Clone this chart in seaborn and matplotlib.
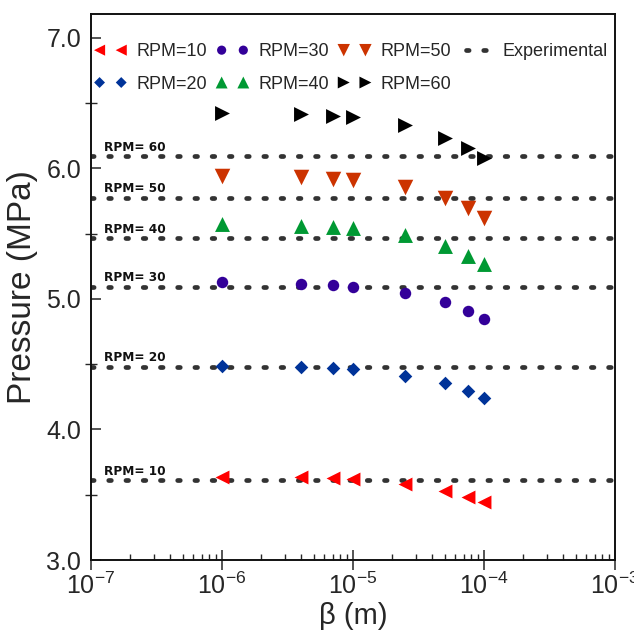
import matplotlib
matplotlib.use("Agg")
import matplotlib.pyplot as plt
import matplotlib.ticker as mticker
import numpy as np
import pandas as pd
import seaborn as sns

# beta values (m) shared by all simulated series
beta = [1e-6, 4e-6, 7e-6, 1e-5, 2.5e-5, 5e-5, 7.5e-5, 1e-4]

rpm10 = [3.638, 3.633, 3.626, 3.618, 3.582, 3.528, 3.485, 3.442]
rpm20 = [4.485, 4.480, 4.470, 4.460, 4.411, 4.353, 4.294, 4.238]
rpm30 = [5.126, 5.116, 5.106, 5.093, 5.042, 4.973, 4.907, 4.843]
rpm40 = [5.573, 5.557, 5.550, 5.540, 5.488, 5.404, 5.330, 5.266]
rpm50 = [5.940, 5.930, 5.920, 5.910, 5.854, 5.770, 5.693, 5.617]
rpm60 = [6.425, 6.415, 6.400, 6.390, 6.331, 6.234, 6.153, 6.076]

rpm_names = ["RPM=10", "RPM=20", "RPM=30", "RPM=40", "RPM=50", "RPM=60"]
experimental = [3.61, 4.479, 5.093, 5.462, 5.775, 6.090]
exp_labels = ["RPM= 10", "RPM= 20", "RPM= 30", "RPM= 40", "RPM= 50", "RPM= 60"]

colors = ["#ff0000", "#003399", "#330099", "#009933", "#cc3300", "#000000"]
markers = ["<", "D", "o", "^", "v", ">"]
sizes = [100, 48, 68, 115, 125, 115]

sns.set_style("ticks")
plt.rcParams["font.family"] = ["Liberation Sans", "DejaVu Sans"]
plt.rcParams["mathtext.fontset"] = "custom"
plt.rcParams["mathtext.rm"] = "Liberation Sans"
plt.rcParams["mathtext.it"] = "Liberation Sans:italic"

fig = plt.figure(figsize=(6.34, 6.39), dpi=100)
ax = fig.add_axes([91 / 634, 79 / 639, 524 / 634, 546 / 639])

series = [rpm10, rpm20, rpm30, rpm40, rpm50, rpm60]
handles = []
for name, vals, c, m, s in zip(rpm_names, series, colors, markers, sizes):
    df = pd.DataFrame({"beta": beta, "p": vals})
    sns.scatterplot(data=df, x="beta", y="p", ax=ax, color=c, marker=m, s=s,
                    linewidth=0, legend=False, zorder=3)
    handles.append(ax.collections[-1])

exp_handle = None
for val, lab in zip(experimental, exp_labels):
    ln = ax.axhline(val, color="#333333", lw=3.4, ls=(0, (0.55, 3.1)),
                    dash_capstyle="round", zorder=2)
    if exp_handle is None:
        exp_handle = ln
    ax.text(1.26e-7, val + 0.042, lab, fontsize=8.7, fontweight="bold",
            family="DejaVu Sans", va="baseline", ha="left", color="#111111")

ax.set_xscale("log")
ax.set_xlim(1e-7, 1e-3)
ax.set_ylim(3.0, 3.0 + 546 / 130.6)
ax.yaxis.set_major_locator(mticker.FixedLocator([3, 4, 5, 6, 7]))
ax.yaxis.set_minor_locator(mticker.MultipleLocator(0.5))
ax.yaxis.set_major_formatter(mticker.FormatStrFormatter("%.1f"))
ax.xaxis.set_major_locator(mticker.LogLocator(base=10, numticks=10))
ax.xaxis.set_minor_locator(mticker.LogLocator(base=10, subs=np.arange(2, 10), numticks=10))
ax.xaxis.set_minor_formatter(mticker.NullFormatter())

ax.tick_params(axis="y", which="major", direction="in", length=7, width=1.1,
               labelsize=18, pad=7)
ax.tick_params(axis="y", which="minor", direction="inout", length=9, width=1.0)
ax.tick_params(axis="x", which="major", direction="inout", length=14, width=1.1,
               labelsize=18, pad=2)
ax.tick_params(axis="x", which="minor", direction="in", length=4, width=1.0)

for sp in ax.spines.values():
    sp.set_linewidth(1.4)
    sp.set_color("#111111")

ax.set_xlabel("β (m)", fontsize=21, labelpad=2)
ax.set_ylabel("Pressure (MPa)", fontsize=24, labelpad=6)

ax.legend(handles + [exp_handle], rpm_names + ["Experimental"], ncol=4,
          loc="upper left", bbox_to_anchor=(0.006, 0.946), frameon=False,
          fontsize=13, scatterpoints=2, scatteryoffsets=[0.5], numpoints=3,
          markerscale=0.8, handlelength=1.8, handletextpad=0.55,
          columnspacing=0.5, labelspacing=0.85, borderpad=0, borderaxespad=0)

fig.savefig("out.png", dpi=100)
